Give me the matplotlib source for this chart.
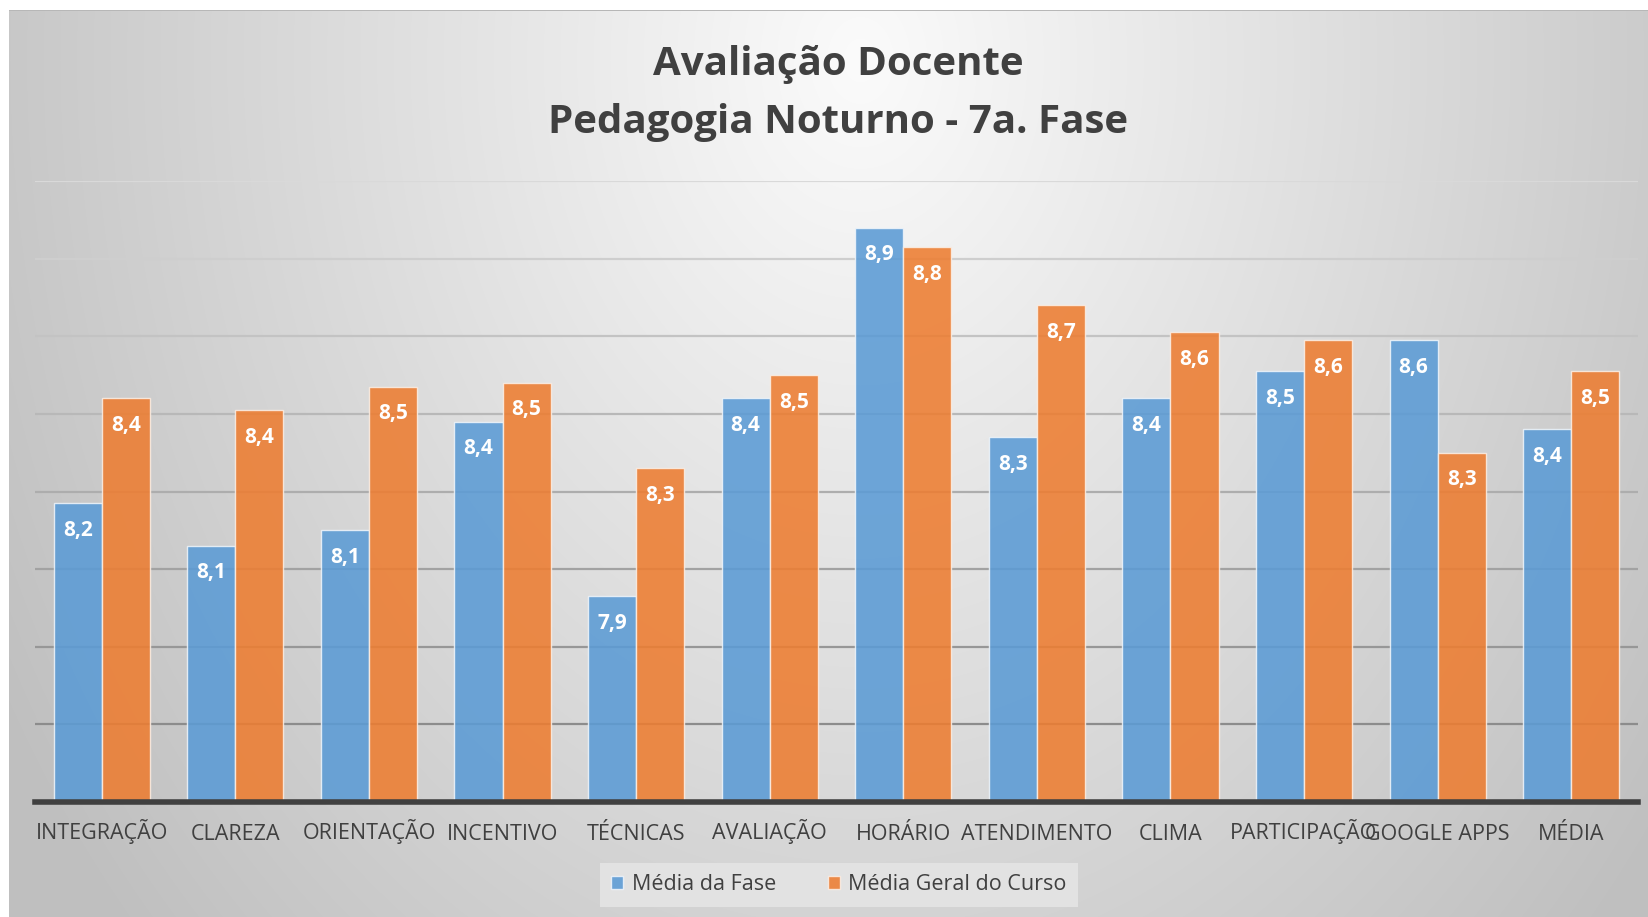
import numpy as np
import matplotlib
matplotlib.use("Agg")
from matplotlib import pyplot as plt
from matplotlib.patches import Patch

plt.rcParams['font.family'] = ['Open Sans', 'DejaVu Sans']

categorias = ['INTEGRAÇÃO', 'CLAREZA', 'ORIENTAÇÃO', 'INCENTIVO', 'TÉCNICAS', 'AVALIAÇÃO',
              'HORÁRIO', 'ATENDIMENTO', 'CLIMA', 'PARTICIPAÇÃO', 'GOOGLE APPS', 'MÉDIA']
media_fase = [8.17, 8.06, 8.10, 8.38, 7.93, 8.44, 8.88, 8.34, 8.44, 8.51, 8.59, 8.36]
media_curso = [8.44, 8.41, 8.47, 8.48, 8.26, 8.50, 8.83, 8.68, 8.61, 8.59, 8.30, 8.51]

W, H = 1648, 917
fig = plt.figure(figsize=(W / 100, H / 100), dpi=100)
fig.patch.set_facecolor('white')

# fundo com gradiente radial
bg = fig.add_axes([0, 0, 1, 1], zorder=-1)
yy, xx = np.mgrid[0:H, 0:W]
r = np.sqrt(((xx - 860) / 1000.0) ** 2 + ((yy - 60) / 1300.0) ** 2)
val = 251 - 60 * np.clip(r, 0, 1)
img = np.dstack([val, val, val]) / 255.0
img[:10, :] = 1.0
img[:, :9] = 1.0
img[10, 9:] = 0.72
bg.imshow(img, extent=(0, W, H, 0), aspect='auto')
bg.set_xlim(0, W)
bg.set_ylim(H, 0)
bg.axis('off')

ax = fig.add_axes([35 / W, 1 - 802 / H, (1638 - 35) / W, (802 - 181) / H])
ax.patch.set_alpha(0)

x = np.arange(len(categorias))
largura = 0.36
azul = '#5B9BD5'
laranja = '#ED7D31'

# linhas de grade, mais claras em cima
niveis = np.arange(7.6, 9.01, 0.2)
for i, n in enumerate(niveis):
    g = 0.55 + 0.30 * i / (len(niveis) - 1)
    ax.axhline(n, color=(g, g, g), lw=1.6, zorder=1)

b1 = ax.bar(x - largura / 2, media_fase, largura, color=azul, alpha=0.88,
            edgecolor='#eef4fa', linewidth=1, zorder=2)
b2 = ax.bar(x + largura / 2, media_curso, largura, color=laranja, alpha=0.88,
            edgecolor='#fbeee4', linewidth=1, zorder=2)

for barras, vals in [(b1, media_fase), (b2, media_curso)]:
    for b, v in zip(barras, vals):
        ax.annotate(f"{v:.1f}".replace('.', ','), (b.get_x() + b.get_width() / 2, v),
                    xytext=(0, -19.5), textcoords='offset points', ha='center', va='center',
                    color='white', fontsize=15, fontweight='bold', zorder=3)

ax.set_ylim(7.4, 9.0)
ax.set_xlim(-0.5, len(categorias) - 0.5)
ax.set_xticks(x)
ax.set_xticklabels(categorias, fontsize=15.5, color='#404040', va='baseline')
ax.tick_params(axis='x', length=0, pad=27)
ax.set_yticks([])
for s in ['top', 'right', 'left']:
    ax.spines[s].set_visible(False)
ax.spines['bottom'].set_color('#404040')
ax.spines['bottom'].set_linewidth(4)
ax.spines['bottom'].set_zorder(4)

fig.text(838 / W, 1 - 65 / H, 'Avaliação Docente', ha='center', va='center',
         fontsize=29, fontweight='bold', color='#404040')
fig.text(838 / W, 1 - 123 / H, 'Pedagogia Noturno - 7a. Fase', ha='center', va='center',
         fontsize=29, fontweight='bold', color='#404040')

handles = [Patch(facecolor=azul, alpha=0.88, edgecolor='#eef4fa', label='Média da Fase'),
           Patch(facecolor=laranja, alpha=0.88, edgecolor='#fbeee4', label='Média Geral do Curso')]
leg = fig.legend(handles=handles, loc='center', bbox_to_anchor=(839 / W, 1 - 885 / H),
                 ncol=2, fontsize=15.5, frameon=True, fancybox=False, facecolor='#e2e2e2',
                 edgecolor='none', framealpha=1, handlelength=0.55, handleheight=0.55,
                 handletextpad=0.4, columnspacing=2.4, borderpad=0.55)
for t in leg.get_texts():
    t.set_color('#404040')

fig.savefig('out.png', dpi=100)
